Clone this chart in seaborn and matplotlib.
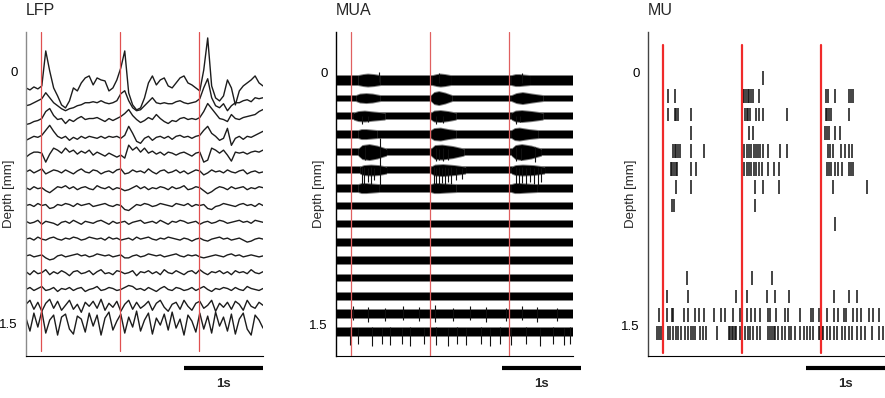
import numpy as np
import pandas as pd
import seaborn as sns
import matplotlib
matplotlib.use("Agg")
import matplotlib.pyplot as plt
from matplotlib import transforms

sns.set_theme(style="white")
plt.rcParams['font.family'] = ['Liberation Sans', 'DejaVu Sans']

# recording sites (mm below surface) and stimulus onsets (s)
depths = [0.1, 0.2, 0.3, 0.4, 0.5, 0.6, 0.7, 0.8, 0.9, 1.0, 1.1, 1.2, 1.3, 1.4, 1.5]
stim_times = [0.19, 1.19, 2.19]
lfp_dt = 0.05  # s between LFP samples

# LFP, one list per channel (arbitrary units, up = positive), read by eye
lfp = [
    [0, -2, 1, -1, 2, 37, 17, 0, -8, -17, -20, -13, 0, -3, 5, 10, 12, 3, 10, 8, 7, -3, 0, 8, 20, 37, -5, -17, -22, -20,
     -10, 5, 12, 3, 8, 10, 2, 0, 5, 10, 12, 5, 3, 0, -3, 18, 50, 2, -10, -13, -8, 8, 0, -17, -3, 2, 5, 8, 12, 5, 2],
    [-1, 0, 2, 4, 6, 12, 7, 2, -1, -4, -6, -4, -3, -1, 0, 2, 2, 3, 2, 4, 2, 1, 2, 4, 11, 14, 4, -3, -6, -5,
     -1, 3, 7, 2, 1, 2, 1, 1, 3, 4, 2, 1, 2, 3, 6, 17, 26, 7, -1, -3, 1, -6, -1, 2, 2, 4, 5, 3, 7, 6, 7],
    [-3, -2, 0, 1, 3, 10, 13, 6, 2, 3, -2, 2, 0, 3, 5, 2, 3, 3, 4, 2, 0, 3, 1, 3, 5, 8, 12, 6, 2, -1,
     1, 4, 2, 7, 3, 0, -2, 1, 0, 3, 4, 2, 3, 2, 4, 10, 18, 13, 8, 3, 2, 0, 7, 3, 2, 4, 5, 6, 7, 10, 12],
    [-2, 0, 2, 1, 3, 8, 13, 7, 2, 0, 2, -2, 1, -1, 2, 0, 2, 1, 0, 2, 0, 2, 1, 2, 0, 3, 12, 5, -3, -5,
     0, 2, -2, 1, 2, 0, 2, -1, 2, 3, 1, 2, 0, 2, 3, 8, 12, 5, 2, -2, 0, 10, -7, 0, 2, -1, 2, 1, 3, 5, 7],
    [-2, 1, 3, 3, 2, -7, 1, 7, 5, 2, 7, 3, 5, 1, 4, 2, 5, 0, 3, 1, -1, 2, 0, -2, 0, -3, 10, 5, 8, 3,
     7, 2, 4, 1, 3, 0, 3, 2, 0, 2, 3, 1, -1, 2, 3, -7, -5, 7, 5, 2, 5, 0, -6, 3, 2, 3, 1, 3, 4, 3, 5],
    [0, 2, -1, 1, 3, -2, 0, 2, 1, -1, 2, 0, -2, 1, 3, 0, -1, 2, 1, -2, 0, 1, -1, 2, 3, -2, -1, 2, 0, 1,
     -1, 3, 0, -2, 1, 2, -1, 0, 2, -1, 1, -2, 0, 2, 1, -3, -1, 2, 0, 1, -1, 2, 0, -1, 1, 2, -2, 0, 1, -1, 0],
    [1, -1, 2, 0, 1, -2, -4, -1, 2, 1, 3, 0, 2, -1, 1, 2, 0, -1, 3, 1, 0, 2, -1, 1, 0, -2, -1, 1, 3, 0,
     2, -1, 1, 0, 2, 1, -1, 2, 0, 1, 3, -1, 0, 2, 1, -2, -5, -3, 0, 2, 1, -1, 2, 0, 1, 2, -1, 1, 0, 2, 1],
    [0, 1, -1, 2, 0, 1, -3, -2, 1, 0, 2, 1, -1, 2, 0, 1, 2, -1, 0, 1, 2, 0, -1, 1, 0, -4, -5, -2, 1, 0,
     2, 1, -1, 0, 2, 1, 0, -1, 2, 1, 0, 2, -1, 1, 0, 1, -3, -4, -1, 0, 2, 1, 0, -1, 1, 2, 0, 1, -1, 2, 0],
    [1, -1, 0, 2, -2, 1, 0, -1, -3, 0, 1, -1, 2, 0, -2, 1, 0, -1, 1, 2, 0, -2, 1, -1, 0, 1, -2, 0, 1, 2,
     -1, 0, 1, -1, 2, 0, -2, 1, 0, 2, 1, -1, 0, 1, -2, 0, 1, -1, 0, 2, 1, -1, 0, 1, 2, 0, 1, -1, 2, 1, 0],
    [0, 1, -1, 2, 0, -1, 1, 2, 0, -1, 1, 0, 2, 1, -1, 0, 2, 1, 0, 1, -1, 2, 0, 1, -1, 0, 1, -1, 2, 0,
     1, 2, 0, -1, 1, 0, 2, 1, 0, -1, 1, 0, -2, 0, 1, -1, -2, 0, 1, 2, 0, 1, -1, 0, 1, -1, -3, -2, 0, 1, 0],
    [0, 1, -1, 0, 1, -2, -4, -3, 0, 1, -1, 0, 1, 2, 0, 1, -1, 0, 2, 1, 0, 1, -1, 0, 1, -2, -2, 0, 1, -1,
     0, 2, 1, 0, 1, -1, 0, 1, 2, 0, -1, 1, 0, 1, -1, -2, -1, 0, 1, 0, -1, 1, 2, 0, 1, -1, 0, 1, 0, -1, 0],
    [1, -2, 2, -1, 0, 3, -2, 1, -1, 2, 0, -3, 1, 2, -1, 0, 2, -2, 1, 3, -1, 0, -2, 2, 1, -1, 0, 2, -3, 1,
     0, 2, -1, 1, -2, 3, 0, -1, 2, 0, -2, 1, 2, -1, 3, 0, -2, 1, 0, 2, -1, 1, -2, 2, 0, 1, -1, 3, 0, -1, 1],
    [0, 2, -1, 1, 3, -1, 0, 2, -2, 1, 0, 2, -1, 1, 2, -2, 0, 1, 3, -1, 0, 2, 1, -1, 0, 2, 4, 3, 0, 1,
     -1, 2, 0, -2, 1, 3, 0, -1, 2, 1, -1, 0, 2, -1, 1, 3, 0, -2, 1, 0, 2, 1, -1, 2, 0, -1, 3, 1, 0, -1, 1],
    [2, 6, -3, 4, -5, 3, 7, -2, 5, -4, 1, 6, -3, 2, -6, 4, 0, 5, -2, 7, -4, 3, -1, 5, -5, 2, 6, -3, 4, -2,
     1, 5, -4, 3, 6, -1, -5, 2, 4, -3, 6, 0, -4, 3, 5, -2, 1, 6, -5, 3, -1, 4, -3, 5, 2, -4, 6, 0, -2, 4, 1],
    [5, -8, 10, -4, 12, -10, 3, 8, -12, 6, 9, -6, -11, 7, 4, -9, 10, -3, 8, -12, 5, 11, -7, 2, 9, -10, 6, -4, 12, -8,
     3, 10, -11, 5, -2, 9, -7, 11, -5, 4, -12, 8, 2, -9, 10, -6, 7, -10, 11, -3, 6, -8, 9, -11, 4, 10, -6, -12, 8, 3, -5],
]

# MUA: resting band half-width per channel, and burst envelopes (ch, times, half-widths)
mua_halfwidth = [4.5, 2.5, 3, 3.5, 3, 3, 3.5, 3, 3, 3.5, 3.5, 3, 3.5, 4, 4]
mua_bursts = [
    (1, [0.28, 0.34, 0.40, 0.48, 0.56], [4.5, 5.5, 6, 5.5, 4.5]),
    (1, [1.22, 1.27, 1.32, 1.38, 1.45], [4.5, 5.5, 6, 5.5, 4.5]),
    (1, [2.22, 2.27, 2.32, 2.38, 2.45], [4.5, 5.5, 5.5, 5, 4.5]),
    (2, [0.25, 0.30, 0.38, 0.46, 0.56], [2.5, 4, 4.5, 4, 2.5]),
    (2, [1.20, 1.24, 1.30, 1.38, 1.47], [2.5, 5.5, 6.5, 5, 2.5]),
    (2, [2.22, 2.28, 2.36, 2.48, 2.62], [2.5, 4.5, 5.5, 4, 2.5]),
    (3, [0.22, 0.28, 0.36, 0.48, 0.62], [3, 4.5, 5, 4, 3]),
    (3, [1.20, 1.24, 1.32, 1.42, 1.52], [3, 5, 5.5, 4.5, 3]),
    (3, [2.22, 2.27, 2.35, 2.48, 2.62], [3, 5, 5.5, 4.5, 3]),
    (4, [0.28, 0.32, 0.38, 0.45, 0.52], [3.5, 4.5, 4.5, 4, 3.5]),
    (4, [1.20, 1.24, 1.32, 1.42, 1.52], [3.5, 5.5, 6, 4.5, 3.5]),
    (4, [2.22, 2.26, 2.32, 2.44, 2.56], [3.5, 5.5, 6, 4.5, 3.5]),
    (5, [0.28, 0.33, 0.42, 0.52, 0.64], [3, 6.5, 7.5, 6, 3]),
    (5, [1.20, 1.25, 1.34, 1.48, 1.62], [3, 6.5, 7, 5.5, 3]),
    (5, [2.22, 2.27, 2.35, 2.47, 2.60], [3, 6.5, 7.5, 6, 3]),
    (6, [0.30, 0.35, 0.44, 0.54, 0.64], [3, 4.5, 5, 4.5, 3]),
    (6, [1.20, 1.25, 1.35, 1.50, 1.64], [3, 5, 5.5, 4.5, 3]),
    (6, [2.22, 2.27, 2.36, 2.50, 2.64], [3, 4.5, 5, 4.5, 3]),
    (7, [0.28, 0.32, 0.38, 0.46, 0.54], [3.5, 4.5, 4.5, 4, 3.5]),
    (7, [1.20, 1.24, 1.30, 1.40, 1.52], [3.5, 4.5, 4.5, 4, 3.5]),
    (7, [2.22, 2.26, 2.32, 2.42, 2.54], [3.5, 4.5, 4.5, 4, 3.5]),
]
# large MUA deflections: (time, extent up, extent down)
mua_spikes_ch1 = [(0.55, 8, 2), (1.30, 7, 3), (2.35, 7, 3)]
mua_spikes_ch3 = [(0.33, 0, 8), (0.40, 0, 6), (1.27, 0, 8), (1.35, 0, 7), (2.28, 0, 8), (2.33, 0, 6)]
mua_spikes_ch5 = [(0.37, 6, 8), (0.56, 14, 15), (1.26, 4, 9), (1.30, 3, 8), (1.36, 4, 9), (1.42, 3, 8),
                  (2.28, 5, 9), (2.34, 4, 8), (2.52, 5, 10)]
mua_spikes_ch6 = [(0.33, 3, 14), (0.36, 3, 15), (0.40, 2, 12), (0.44, 3, 15), (0.48, 2, 10), (0.56, 3, 16),
                  (1.24, 3, 15), (1.27, 2, 14), (1.30, 3, 15), (1.34, 2, 13), (1.38, 3, 15), (1.42, 2, 12),
                  (1.46, 3, 14), (1.52, 2, 10), (1.60, 2, 9), (2.28, 3, 14), (2.32, 2, 15), (2.36, 3, 13),
                  (2.40, 2, 15), (2.45, 3, 12), (2.50, 2, 14), (2.56, 3, 16), (2.60, 2, 12)]
mua_spikes_ch14 = [(0.22, 8, 6), (0.40, 7, 8), (0.62, 6, 7), (0.85, 8, 6), (1.05, 7, 7), (1.25, 9, 8),
                   (1.48, 6, 7), (1.70, 8, 6), (1.90, 7, 8), (2.15, 6, 7), (2.35, 8, 6), (2.55, 7, 8), (2.80, 6, 7)]
mua_spikes_ch15 = [(0.18, 5, 13), (0.28, 4, 12), (0.45, 5, 14), (0.58, 4, 12), (0.68, 5, 13), (0.83, 4, 12),
                   (0.94, 5, 14), (1.11, 4, 12), (1.27, 5, 13), (1.42, 4, 14), (1.53, 5, 12), (1.65, 4, 13),
                   (1.84, 5, 12), (1.95, 4, 14), (2.08, 5, 12), (2.22, 4, 13), (2.41, 5, 12), (2.58, 4, 14),
                   (2.75, 5, 12), (2.88, 4, 13), (2.96, 5, 12)]
mua_spikes = {1: mua_spikes_ch1, 3: mua_spikes_ch3, 5: mua_spikes_ch5, 6: mua_spikes_ch6,
              14: mua_spikes_ch14, 15: mua_spikes_ch15}

# MU spike times (s) per channel
mu_spikes = [
    [1.45],
    [0.25, 0.34, 1.20, 1.22, 1.24, 1.26, 1.28, 1.30, 1.33, 1.41, 2.25, 2.28, 2.37, 2.54, 2.57, 2.59],
    [0.25, 0.34, 0.36, 0.38, 0.54, 1.23, 1.25, 1.27, 1.29, 1.37, 1.40, 1.45, 1.76, 2.25, 2.27, 2.29, 2.32, 2.54],
    [0.54, 1.28, 1.33, 2.24, 2.26, 2.29, 2.37, 2.43],
    [0.32, 0.34, 0.36, 0.38, 0.41, 0.54, 0.71, 1.22, 1.25, 1.28, 1.31, 1.34, 1.37, 1.39, 1.42, 1.45, 1.52, 1.67,
     1.76, 2.28, 2.31, 2.34, 2.44, 2.49, 2.55, 2.58],
    [0.29, 0.31, 0.33, 0.35, 0.37, 0.54, 0.61, 1.22, 1.25, 1.28, 1.31, 1.34, 1.37, 1.41, 1.44, 1.52, 1.59, 1.66,
     2.27, 2.29, 2.32, 2.37, 2.41, 2.45, 2.54, 2.57, 2.59],
    [0.35, 0.54, 1.35, 1.45, 1.66, 2.34, 2.77],
    [0.31, 0.33, 1.35],
    [2.37],
    [],
    [],
    [0.49, 1.32, 1.57],
    [0.24, 0.51, 1.11, 1.25, 1.51, 1.61, 1.78, 2.35, 2.54, 2.65],
    [0.14, 0.24, 0.30, 0.32, 0.46, 0.51, 0.60, 0.65, 0.71, 0.83, 0.92, 0.97, 1.07, 1.17, 1.25, 1.30, 1.35, 1.42,
     1.52, 1.54, 1.62, 1.73, 1.77, 1.92, 2.06, 2.09, 2.16, 2.26, 2.35, 2.41, 2.48, 2.51, 2.59, 2.65, 2.70, 2.80,
     2.85, 2.92],
    [0.11, 0.14, 0.16, 0.25, 0.28, 0.32, 0.35, 0.38, 0.42, 0.47, 0.51, 0.54, 0.57, 0.60, 0.66, 0.70, 0.74, 0.87,
     1.02, 1.04, 1.06, 1.08, 1.10, 1.12, 1.16, 1.23, 1.26, 1.29, 1.33, 1.38, 1.42, 1.52, 1.54, 1.57, 1.59, 1.61,
     1.65, 1.69, 1.73, 1.78, 1.81, 1.86, 1.92, 1.97, 2.01, 2.05, 2.09, 2.16, 2.18, 2.20, 2.22, 2.26, 2.30, 2.35,
     2.39, 2.45, 2.49, 2.54, 2.58, 2.64, 2.70, 2.75, 2.83, 2.92, 2.97],
]

depth_ticks = [0, 0.2, 0.4, 0.6, 0.8, 1.0, 1.2, 1.4, 1.6]
depth_labels = ['0', '1.5']

fig = plt.figure(figsize=(8.85, 3.98), dpi=100)
lefts = [26, 336, 648]
axes = [fig.add_axes([l / 885, 42 / 398, 237 / 885, 324 / 398]) for l in lefts]
ax_lfp, ax_mua, ax_mu = axes

# --- LFP
gain_lfp = 1 / 168
rows = []
for ch, (d, vals) in enumerate(zip(depths, lfp)):
    for k, v in enumerate(vals):
        rows.append((ch, k * lfp_dt, d - v * gain_lfp))
df_lfp = pd.DataFrame(rows, columns=['ch', 't', 'y'])
sns.lineplot(data=df_lfp, x='t', y='y', units='ch', estimator=None, sort=False,
             color='#1c1c1c', lw=1.0, ax=ax_lfp)
ax_lfp.set_ylim(1.696, -0.233)

# --- MUA (black core with a grey fringe for the noisy edge)
gain_mua = 1 / 180
fringe = 1.0
for ch, (d, hw) in enumerate(zip(depths, mua_halfwidth), start=1):
    ax_mua.fill_between([0, 3], d - (hw + fringe) * gain_mua, d + (hw + fringe) * gain_mua,
                        color='#808080', lw=0)
    ax_mua.fill_between([0, 3], d - hw * gain_mua, d + hw * gain_mua, color='black', lw=0)
    for bch, tt, ww in mua_bursts:
        if bch != ch:
            continue
        ww = np.array(ww)
        ax_mua.fill_between(tt, d - (ww + fringe) * gain_mua, d + (ww + fringe) * gain_mua,
                            color='#808080', lw=0)
        ax_mua.fill_between(tt, d - ww * gain_mua, d + ww * gain_mua, color='black', lw=0)
    for t, up, down in mua_spikes.get(ch, []):
        ax_mua.vlines(t, d - up * gain_mua, d + down * gain_mua, color='#111111', lw=0.8)
ax_mua.set_ylim(1.633, -0.167)

# --- MU raster
for d, times in zip(depths, mu_spikes):
    if times:
        ax_mu.vlines(times, d - 0.038, d + 0.038, color='#111111', lw=1.1)
ax_mu.set_ylim(1.627, -0.153)

# stimulus markers
for t in stim_times:
    ax_lfp.axvline(t, ymin=0.015, ymax=1, color='#e05050', lw=0.9, zorder=5)
    ax_mua.axvline(t, ymin=0, ymax=1, color='#e06060', lw=0.9, zorder=5)
    ax_mu.axvline(t, ymin=0.01, ymax=0.96, color='#f02a2a', lw=1.6, zorder=5)

titles = ['LFP', 'MUA', 'MU']
label_pos = [[0, 1.5], [0.06, 1.46], [0.07, 1.46]]
bar_start = [2.0, 2.1, 2.0]
left_spine = ['#8a8a8a', 'black', '#444444']
for ax, title, lp, b0, sc in zip(axes, titles, label_pos, bar_start, left_spine):
    ax.set_xlim(0, 3)
    ax.set_title(title, loc='left', fontsize=11.5, pad=12.5)
    ax.set_xlabel('')
    ax.set_ylabel('Depth [mm]', fontsize=9.5)
    ax.yaxis.set_label_coords(-0.048, 0.5)
    ax.set_xticks([1, 2])
    ax.set_xticklabels([])
    ax.set_yticks(lp)
    ax.set_yticklabels(depth_labels)
    ax.set_yticks(depth_ticks, minor=True)
    ax.tick_params(axis='both', which='both', direction='in', length=3, width=0.6, colors='black')
    ax.tick_params(axis='y', which='major', length=0, pad=6, labelsize=9.5)
    for s in ['top', 'right']:
        ax.spines[s].set_visible(False)
    ax.spines['left'].set_color(sc)
    ax.spines['left'].set_linewidth(1.0)
    ax.spines['bottom'].set_color('black')
    ax.spines['bottom'].set_linewidth(0.8)
    # 1 s scale bar
    tr = transforms.blended_transform_factory(ax.transData, ax.transAxes)
    ax.plot([b0, b0 + 1], [-0.037, -0.037], transform=tr, clip_on=False,
            color='black', lw=3, solid_capstyle='butt')
    ax.text(b0 + 0.5, -0.085, '1s', transform=tr, ha='center', va='center',
            fontsize=9.5, fontweight='bold')

fig.savefig('out.png', dpi=100, facecolor='white')
